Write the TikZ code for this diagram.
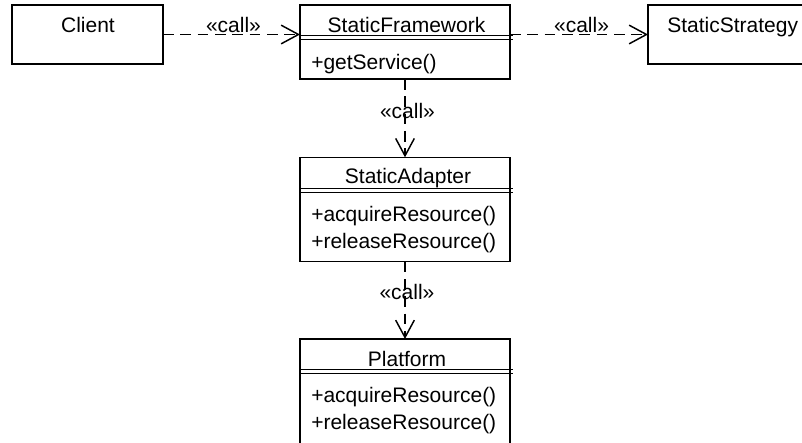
\documentclass[tikz,border=0pt]{standalone}
\usepackage{fontspec}
\setmainfont{Liberation Sans}
\usetikzlibrary{arrows.meta}
\begin{document}
\begin{tikzpicture}[x=0.75pt,y=-0.75pt,
  box/.style={draw,line width=1.1pt,rectangle,anchor=north west,inner sep=0pt,outer sep=0pt},
  txt/.style={font=\fontsize{15.75}{18}\selectfont,inner sep=0pt,anchor=base},
  optxt/.style={txt,anchor=base west},
  call/.style={line width=1.1pt,dash pattern=on 8pt off 5pt,-{Straight Barb[length=13pt,width=14pt]}},
  sep/.style={line width=1.1pt}]
\useasboundingbox (0,0) rectangle (802,442);
\clip (0,0) rectangle (802,442);
% boxes
\node[box,minimum width=113.25pt,minimum height=44.25pt] (client) at (12,5) {};
\node[box,minimum width=157.5pt,minimum height=55.5pt] (sf) at (300,5) {};
\node[box,minimum width=136.5pt,minimum height=44.25pt] (ss) at (648,5) {};
\node[box,minimum width=157.5pt,minimum height=78.3pt] (sa) at (300,157.3) {};
\node[box,minimum width=157.5pt,minimum height=98.25pt] (pf) at (300,339) {};
% compartment separators
\draw[sep] (300,35.5) -- (512.5,35.5);
\draw[sep] (300,39.5) -- (512.5,39.5);
\draw[sep] (300,188.3) -- (512.5,188.3);
\draw[sep] (300,192.3) -- (512.5,192.3);
\draw[sep] (300,369.5) -- (512.5,369.5);
\draw[sep] (300,373.5) -- (512.5,373.5);
% texts
\node[txt] (tclient) at (88,33) {Client};
\node[txt] (tsf) at (406.5,33) {StaticFramework};
\node[optxt] (tss) at (667,33) {StaticStrategy};
\node[optxt] (osf) at (311,69.5) {+getService()};
\node[txt] (tsa) at (408,183.5) {StaticAdapter};
\node[optxt] (osa1) at (311,221.5) {+acquireResource()};
\node[optxt] (osa2) at (311,248.5) {+releaseResource()};
\node[txt] (tpf) at (407,366.5) {Platform};
\node[optxt] (opf1) at (311,402.5) {+acquireResource()};
\node[optxt] (opf2) at (311,429) {+releaseResource()};
% connectors
\draw[call] (client.east) -- (client.east -| sf.west);
\draw[call] (sf.east |- ss.west) -- (ss.west);
\draw[call] (sf.south) -- (sa.north);
\draw[call] (sa.south) -- (pf.north);
% labels
\node[txt] (l1) at (233.5,33) {«call»};
\node[txt] (l2) at (581.5,33) {«call»};
\node[txt] (l3) at (407.5,119) {«call»};
\node[txt] (l4) at (407,299) {«call»};
\end{tikzpicture}
\end{document}
